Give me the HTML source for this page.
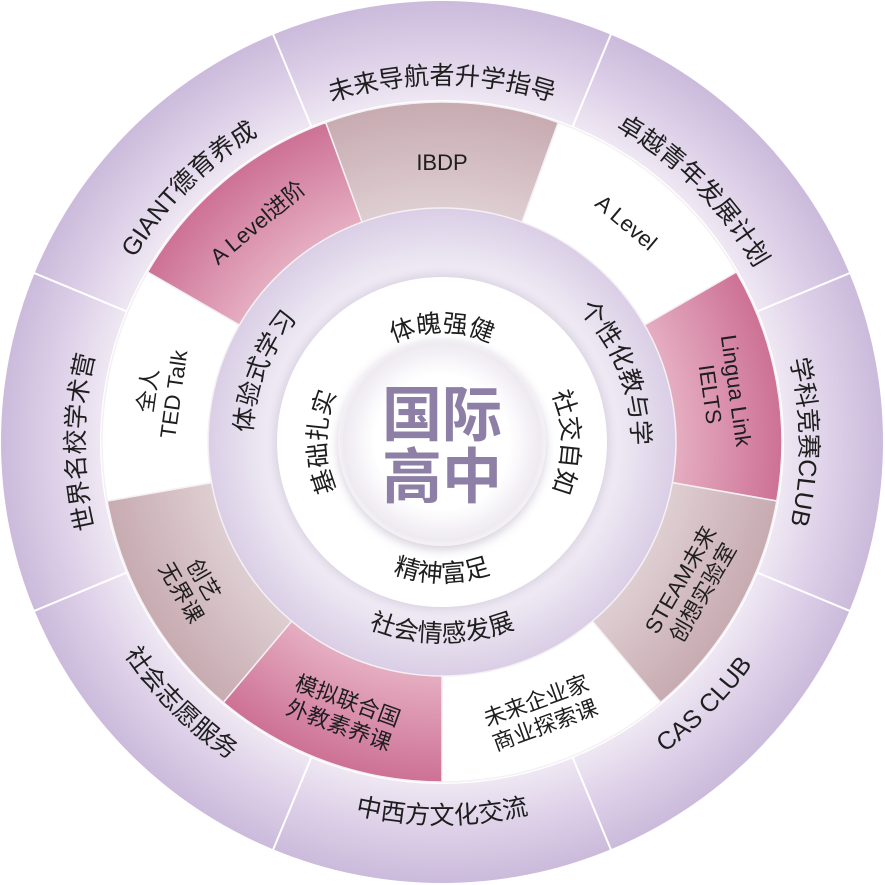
<!DOCTYPE html>
<html><head><meta charset="utf-8"><style>
html,body{margin:0;padding:0;background:#fff;}
svg{display:block;}
text{font-family:"Liberation Sans","Noto Sans CJK SC",sans-serif;fill:#1e1e1e;}
</style></head><body>
<svg width="885" height="885" viewBox="0 0 885 885" xmlns="http://www.w3.org/2000/svg">
<defs>
<radialGradient id="outer" cx="442" cy="442" r="442" gradientUnits="userSpaceOnUse">
<stop offset="0.77" stop-color="#efe8f3"/><stop offset="0.88" stop-color="#ddd0e8"/><stop offset="1" stop-color="#cbbadb"/>
</radialGradient>
<radialGradient id="lav" cx="442" cy="442" r="236" gradientUnits="userSpaceOnUse">
<stop offset="0.7" stop-color="#f2eef6"/><stop offset="1" stop-color="#d9cde5"/>
</radialGradient>
<radialGradient id="ctr" cx="442" cy="442" r="112" gradientUnits="userSpaceOnUse">
<stop offset="0.6" stop-color="#ffffff"/><stop offset="0.88" stop-color="#eeeaf1"/><stop offset="1" stop-color="#ffffff"/>
</radialGradient>
<radialGradient id="pinkA" cx="442" cy="442" r="340" gradientUnits="userSpaceOnUse">
<stop offset="0.68" stop-color="#e6afc2"/><stop offset="1" stop-color="#cd7195"/>
</radialGradient>
<radialGradient id="beige" cx="442" cy="442" r="340" gradientUnits="userSpaceOnUse">
<stop offset="0.68" stop-color="#dfcfd2"/><stop offset="1" stop-color="#c7abb1"/>
</radialGradient>
<path id="o0" d="M211.9,167.8 A358,358 0 0 1 672.1,167.8"/>
<path id="o45" d="M473.2,85.4 A358,358 0 0 1 798.6,410.8"/>
<path id="o90" d="M716.2,211.9 A358,358 0 0 1 716.2,672.1"/>
<path id="o315" d="M85.4,410.8 A358,358 0 0 1 410.8,85.4"/>
<path id="o270" d="M167.8,672.1 A358,358 0 0 1 167.8,211.9"/>
<path id="o180" d="M196.4,734.6 A382,382 0 0 0 687.6,734.6"/>
<path id="o135" d="M475.3,822.5 A382,382 0 0 0 822.5,475.3"/>
<path id="o225" d="M61.5,475.3 A382,382 0 0 0 408.7,822.5"/>
<path id="i1" d="M442,632 A190,190 0 0 1 442,252 A190,190 0 0 1 442,632"/>
<path id="i2" d="M442,242 A200,200 0 0 0 442,642 A200,200 0 0 0 442,242"/>
<path id="w1" d="M442,552 A110,110 0 0 1 442,332 A110,110 0 0 1 442,552"/>
<path id="w2" d="M442,302 A140,140 0 0 0 442,582 A140,140 0 0 0 442,302"/>
<path id="w3" d="M442,562 A120,120 0 0 1 442,322 A120,120 0 0 1 442,562"/>
<path id="w4" d="M442,558 A116,116 0 0 1 442,326 A116,116 0 0 1 442,558"/>
<filter id="sh" x="-30%" y="-30%" width="160%" height="160%"><feGaussianBlur stdDeviation="5"/></filter>
</defs>
<circle cx="442" cy="442" r="441" fill="url(#outer)"/>
<g stroke="#fff" stroke-width="2">
<line x1="572.1" y1="127.9" x2="611.2" y2="33.6"/>
<line x1="756.1" y1="311.9" x2="850.4" y2="272.8"/>
<line x1="756.1" y1="572.1" x2="850.4" y2="611.2"/>
<line x1="572.1" y1="756.1" x2="611.2" y2="850.4"/>
<line x1="311.9" y1="756.1" x2="272.8" y2="850.4"/>
<line x1="127.9" y1="572.1" x2="33.6" y2="611.2"/>
<line x1="127.9" y1="311.9" x2="33.6" y2="272.8"/>
<line x1="311.9" y1="127.9" x2="272.8" y2="33.6"/>
</g>
<circle cx="442" cy="442" r="342" fill="#fff"/>
<circle cx="442" cy="442" r="236" fill="url(#lav)"/>
<g stroke="#f4f0f4" stroke-width="1.5">
<path d="M325.7,122.5 A340,340 0 0 1 558.3,122.5 L522,222.1 A234,234 0 0 0 362,222.1 Z" fill="url(#beige)"/>
<path d="M558.3,122.5 A340,340 0 0 1 736.4,272 L644.6,325 A234,234 0 0 0 522,222.1 Z" fill="#fff"/>
<path d="M736.4,272 A340,340 0 0 1 776.8,501 L672.4,482.6 A234,234 0 0 0 644.6,325 Z" fill="url(#pinkA)"/>
<path d="M776.8,501 A340,340 0 0 1 660.6,702.4 L592.4,621.2 A234,234 0 0 0 672.4,482.6 Z" fill="url(#beige)"/>
<path d="M660.6,702.4 A340,340 0 0 1 442,782 L442,676 A234,234 0 0 0 592.4,621.2 Z" fill="#fff"/>
<path d="M442,782 A340,340 0 0 1 223.4,702.4 L291.6,621.2 A234,234 0 0 0 442,676 Z" fill="url(#pinkA)"/>
<path d="M223.4,702.4 A340,340 0 0 1 107.2,501 L211.6,482.6 A234,234 0 0 0 291.6,621.2 Z" fill="url(#beige)"/>
<path d="M107.2,501 A340,340 0 0 1 147.6,272 L239.4,325 A234,234 0 0 0 211.6,482.6 Z" fill="#fff"/>
<path d="M147.6,272 A340,340 0 0 1 325.7,122.5 L362,222.1 A234,234 0 0 0 239.4,325 Z" fill="url(#pinkA)"/>
</g>
<circle cx="442" cy="442" r="168" fill="#d8cfe0" filter="url(#sh)"/>
<circle cx="442" cy="442" r="165" fill="#fff"/>
<circle cx="442" cy="446" r="104" fill="#d6d0dc" filter="url(#sh)"/>
<circle cx="442" cy="442" r="104" fill="url(#ctr)"/>
<text x="442" y="436" text-anchor="middle" font-size="60" font-weight="bold" style="fill:#8e7fa6">国际</text>
<text x="442" y="498" text-anchor="middle" font-size="60" font-weight="bold" style="fill:#8e7fa6">高中</text>

<g font-size="25">
<text><textPath href="#o0" startOffset="50%" text-anchor="middle">未来导航者升学指导</textPath></text>
<text><textPath href="#o45" startOffset="50%" text-anchor="middle">卓越青年发展计划</textPath></text>
<text><textPath href="#o90" startOffset="50%" text-anchor="middle">学科竞赛CLUB</textPath></text>
<text><textPath href="#o315" startOffset="50%" text-anchor="middle">GIANT德育养成</textPath></text>
<text><textPath href="#o270" startOffset="50%" text-anchor="middle">世界名校学术营</textPath></text>
<text><textPath href="#o180" startOffset="50%" text-anchor="middle">中西方文化交流</textPath></text>
<text><textPath href="#o135" startOffset="50%" text-anchor="middle">CAS CLUB</textPath></text>
<text><textPath href="#o225" startOffset="50%" text-anchor="middle">社会志愿服务</textPath></text>
</g>

<g font-size="22" text-anchor="middle">
<text x="442" y="170">IBDP</text>
<text transform="translate(626.5,222.2) rotate(40)" y="8">A Level</text>
<text transform="translate(724.6,392.2) rotate(82)"><tspan x="0" y="-4">Lingua Link</tspan><tspan x="0" y="22">IELTS</tspan></text>
<text transform="translate(690.5,585.5) rotate(-60)"><tspan x="0" y="-4">STEAM未来</tspan><tspan x="0" y="22">创想实验室</tspan></text>
<text transform="translate(540.2,711.7) rotate(-20)"><tspan x="0" y="-4">未来企业家</tspan><tspan x="0" y="22">商业探索课</tspan></text>
<text transform="translate(343.8,711.7) rotate(20)"><tspan x="0" y="-4">模拟联合国</tspan><tspan x="0" y="22">外教素养课</tspan></text>
<text transform="translate(193.5,585.5) rotate(60)"><tspan x="0" y="-4">创艺</tspan><tspan x="0" y="22">无界课</tspan></text>
<text transform="translate(159.4,392.2) rotate(-82)"><tspan x="0" y="-4">全人</tspan><tspan x="0" y="22">TED Talk</tspan></text>
<text transform="translate(257.5,222.2) rotate(-40)" y="8">A Level进阶</text>
</g>

<g font-size="25">
<text><textPath href="#i1" startOffset="31%" text-anchor="middle">体验式学习</textPath></text>
<text><textPath href="#i1" startOffset="69%" text-anchor="middle">个性化教与学</textPath></text>
<text><textPath href="#i2" startOffset="50%" text-anchor="middle">社会情感发展</textPath></text>
<text><textPath href="#w1" startOffset="50%" text-anchor="middle">体魄强健</textPath></text>
<text><textPath href="#w3" startOffset="75%" text-anchor="middle">社交自如</textPath></text>
<text><textPath href="#w2" startOffset="50%" text-anchor="middle">精神富足</textPath></text>
<text><textPath href="#w4" startOffset="25%" text-anchor="middle">基础扎实</textPath></text>
</g>
</svg>
</body></html>
